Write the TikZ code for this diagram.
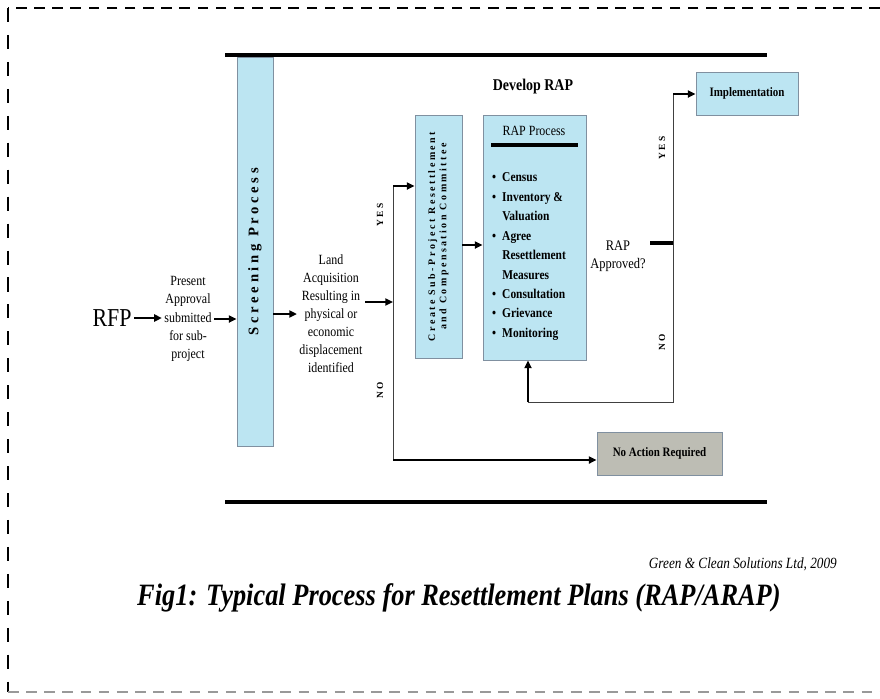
\documentclass[tikz,border=0pt]{standalone}
\usepackage{fontspec}
\setmainfont[FakeStretch=0.85]{Liberation Serif}
\newfontfamily\spacedfont[LetterSpace=25]{Liberation Serif}
\usepackage{graphicx}
\usetikzlibrary{arrows.meta}
\definecolor{boxblue}{HTML}{BCE5F2}
\definecolor{boxgray}{HTML}{BDBDB4}
\definecolor{boxline}{HTML}{8090A0}
\newdimen\pxu \pxu=0.03cm

\begin{document}
\begin{tikzpicture}[x=0.03cm, y=-0.03cm,
    bluebox/.style={draw=boxline, fill=boxblue, line width=0.8pt, inner sep=0pt},
    graybox/.style={draw=boxline, fill=boxgray, line width=0.8pt, inner sep=0pt},
    arr/.style={-{Triangle[length=6.5pt,width=6pt]}, line width=1.5pt},
    link/.style={draw=black!75, line width=0.7pt},
    yesno/.style={inner sep=0pt, font=\spacedfont\bfseries\fontsize{8}{9}\selectfont}]
            \useasboundingbox (0,0) rectangle (880,698);
            %
            \draw[line width=1.2pt, dash pattern=on 9pt off 6.5pt] (880,8) -- (8,8);
            \draw[line width=1.2pt, dash pattern=on 12pt off 11pt] (8,8) -- (8,692);
            \draw[line width=1.2pt, black!40, dash pattern=on 9pt off 6.5pt] (8,692) -- (880,692);
            %
            \draw[line width=3.2pt] (225,55) -- (767,55);
            \draw[line width=3.2pt] (225,502) -- (767,502);
            %
            \node[inner sep=2pt, font=\fontsize{22}{26}\selectfont] (rfp) at (112,318) {RFP};
            \node[inner sep=2pt, align=center, font=\fontsize{12}{15.6}\selectfont] (present) at (188,319)
                {Present\\Approval\\submitted\\for sub-\\project};
            \node[bluebox, minimum width=36*\pxu, minimum height=389*\pxu] (screen) at (255,251.5)
                {\rotatebox{90}{\spacedfont\bfseries\fontsize{12.5}{14}\selectfont Screening Process}};
            \node[inner sep=2pt, align=center, font=\fontsize{12}{15.4}\selectfont] (land) at (331,314)
                {Land\\Acquisition\\Resulting in\\physical or\\economic\\displacement\\identified};
            %
            \node[bluebox, minimum width=47*\pxu, minimum height=243*\pxu] (create) at (438.5,236.5)
                {\rotatebox{90}{\spacedfont\bfseries\fontsize{8.5}{9.6}\selectfont
                 \begin{tabular}{@{}c@{}}Create Sub-Project Resettlement\\and Compensation Committee\end{tabular}}};
            \node[bluebox, minimum width=103*\pxu, minimum height=245*\pxu] (rapbox) at (534.5,237.5) {};
            \node[inner sep=0pt, font=\fontsize{12}{14}\selectfont] (raptitle) at (534,131) {RAP Process};
            \draw[line width=2.6pt] (491,145) -- (578,145);
            \node[inner sep=0pt, anchor=north west, font=\bfseries\fontsize{11.5}{16.6}\selectfont] (raplist) at (489,168)
                {\begin{tabular}{@{\hspace{3\pxu}}l@{\hspace{6\pxu}}l@{}}
                 \textbullet & Census\\
                 \textbullet & Inventory \&\\
                             & Valuation\\
                 \textbullet & Agree\\
                             & Resettlement\\
                             & Measures\\
                 \textbullet & Consultation\\
                 \textbullet & Grievance\\
                 \textbullet & Monitoring
                 \end{tabular}};
            \node[inner sep=0pt, font=\bfseries\fontsize{14}{16}\selectfont] (develop) at (533,87) {Develop RAP};
            %
            \node[inner sep=0pt, align=center, font=\fontsize{12.5}{15.4}\selectfont] (approved) at (618,256)
                {RAP\\Approved?};
            \node[bluebox, minimum width=102*\pxu, minimum height=43*\pxu, font=\bfseries\fontsize{11}{13}\selectfont] (impl) at (747,93.5)
                {Implementation};
            \node[graybox, minimum width=125*\pxu, minimum height=43*\pxu, font=\bfseries\fontsize{11}{13}\selectfont] (noact) at (659.5,453.5)
                {No Action Required};
            %
            \node[yesno] (yesa) at (380,215) {\rotatebox{90}{YES}};
            \node[yesno] (noa) at (380,390) {\rotatebox{90}{NO}};
            \node[yesno] (yesb) at (662,148) {\rotatebox{90}{YES}};
            \node[yesno] (nob) at (662,342) {\rotatebox{90}{NO}};
            %
            \coordinate (split) at (393,302);
            \coordinate (splittop) at (393,186);
            \coordinate (splitbot) at (393,460);
            \coordinate (aptop) at (673,94);
            \coordinate (apbot) at (673,402);
            \coordinate (aptick) at (650,243);
            \coordinate (back) at (528,402);
            %
            \draw[arr] (rfp.east) -- (rfp.east -| present.west);
            \draw[arr] (present.east) -- (present.east -| screen.west);
            \draw[arr] (screen.east |- land.west) -- (land.west);
            \draw[arr] (land.east |- split) -- (split);
            \draw[link] (splittop) -- (splitbot);
            \draw[arr] (splittop) -- (splittop -| create.west);
            \draw[arr] (splitbot) -- (splitbot -| noact.west);
            \draw[arr] (create.east |- 0,245) -- (rapbox.west |- 0,245);
            %
            \draw[link] (aptop) -- (apbot) -- (back);
            \draw[arr] (back) -- (back |- rapbox.south);
            \draw[arr] (aptop) -- (aptop -| impl.west);
            \draw[line width=3pt] (aptick) -- (aptick -| aptop);
            %
            \node[inner sep=0pt, anchor=east, font=\itshape\fontsize{13.3}{15}\selectfont] (credit) at (837,564)
                {Green \& Clean Solutions Ltd, 2009};
            \node[inner sep=0pt, anchor=west, font=\bfseries\itshape\fontsize{26.5}{30}\selectfont] (caption) at (137,598)
                {Fig1: Typical Process for Resettlement Plans (RAP/ARAP)};
        \end{tikzpicture}
\end{document}
